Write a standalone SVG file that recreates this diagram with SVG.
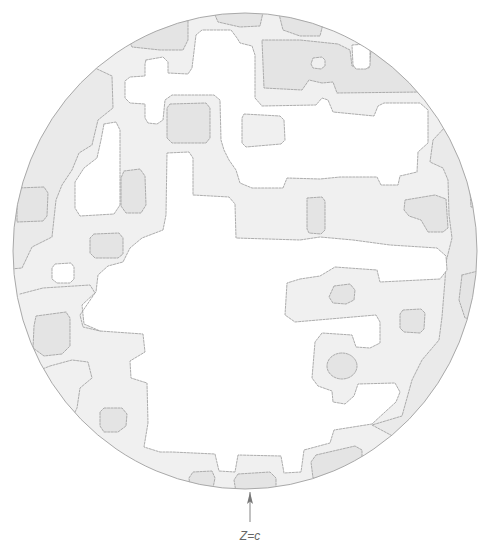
<svg xmlns="http://www.w3.org/2000/svg" width="484" height="542" viewBox="0 0 484 542">
<style>
.k{stroke:#a4a4a4;stroke-width:0.9;stroke-dasharray:2.2 1.3;stroke-linejoin:round;stroke-linecap:round}
.w{fill:#ffffff}
.l{fill:#f0f0f0}
.d{fill:#e4e4e4}
.b{fill:#eaeaea}
.n{fill:none}
</style>
<defs>
<clipPath id="disk"><ellipse cx="245" cy="251" rx="232" ry="238"/></clipPath>
<marker id="ah" viewBox="0 0 12 6" refX="12" refY="3" markerWidth="12" markerHeight="6" orient="auto" markerUnits="userSpaceOnUse">
<path d="M0,0 L12,3 L0,6 L2.5,3 Z" fill="#777"/>
</marker>
</defs>
<rect width="484" height="542" fill="#ffffff"/>
<g id="map" clip-path="url(#disk)">
<ellipse cx="245" cy="251" rx="232" ry="238" class="l"/>
<!-- darker bands along the rim -->
<polygon class="b k" points="0,40 95,68 112,76 113,108 98,120 92,145 79,153 72,170 62,185 56,200 52,237 32,247 22,268 0,270"/>
<polygon class="b k" points="484,110 447,125 433,140 430,162 443,168 448,180 449,215 452,238 446,262 445,280 442,317 439,340 422,360 412,380 402,416 372,425 400,440 484,440"/>
<!-- top dark region -->
<polygon class="d k" points="262,40 300,40 338,44 350,50 352,66 369,68 371,50 390,60 412,80 422,92 337,93 333,82 322,83 309,80 302,90 264,88"/>
<polygon class="l k" points="313,58 322,57 325,60 325,66 321,69 313,68 311,64"/>
<polygon class="d k" points="120,20 132,47 160,50 183,50 188,40 188,20"/>
<polygon class="d k" points="212,8 218,22 240,27 260,26 264,8"/>
<polygon class="d k" points="278,10 283,30 300,36 320,36 324,20 316,8"/>
<!-- white notch top right -->
<polygon class="w k" points="352,45 367,44 370,50 370,66 366,69 356,69 353,65"/>
<!-- upper white region (cross + top centre + right arm) -->
<polygon class="w k" points="146,60 163,57 168,62 168,73 188,74 192,68 196,35 202,30 231,30 237,38 240,43 252,46 255,55 255,98 262,106 316,105 322,98 328,100 333,112 374,116 378,106 384,103 420,103 428,110 428,143 418,152 417,172 400,176 398,185 381,185 377,177 340,177 320,179 287,178 283,188 252,188 240,183 236,170 229,160 224,150 221,140 220,100 214,95 172,95 165,100 163,120 157,124 148,123 145,118 145,104 130,103 125,98 125,81 130,77 145,76 145,64"/>
<polygon class="l k" points="244,114 280,116 284,120 285,140 281,144 246,147 242,143 242,118"/>
<!-- gray square with dark core below cross -->
<polygon class="d k" points="170,104 206,103 210,108 210,138 206,143 172,143 167,138 167,108"/>
<!-- white slanted region left -->
<polygon class="w k" points="104,124 116,122 120,130 120,205 114,214 80,216 75,208 75,182 84,168 97,158 101,140"/>
<polygon class="d k" points="124,171 140,169 145,176 146,205 141,213 126,213 121,206 121,178"/>
<polygon class="d k" points="17,188 44,187 48,193 47,216 43,221 17,222"/>
<polygon class="d k" points="94,234 119,233 123,238 123,254 118,258 95,258 90,253 90,238"/>
<polygon class="w k" points="55,264 71,263 74,267 74,279 70,283 57,283 52,279 52,268"/>
<!-- big central white -->
<polygon class="w k" points="167,153 189,152 193,158 193,195 229,197 235,204 236,238 300,240 320,237 353,240 390,245 437,248 446,256 447,270 440,279 380,282 377,270 335,267 320,276 300,279 287,283 285,315 295,322 376,315 380,322 380,343 370,348 356,347 352,335 322,333 315,342 312,378 318,386 332,391 333,402 345,404 354,396 358,384 395,383 400,392 396,402 385,412 372,424 334,430 330,443 304,450 301,472 284,473 281,456 238,455 235,472 219,471 215,454 172,452 160,452 144,447 148,423 147,383 131,378 130,361 145,352 143,334 100,331 84,324 82,305 96,292 98,275 108,266 123,262 130,248 142,238 163,230 166,215"/>
<!-- dark spots -->
<polygon class="d k" points="307,198 322,197 325,201 325,230 321,234 309,233 307,229"/>
<polygon class="d k" points="405,200 435,195 446,199 448,228 443,232 428,232 421,220 409,216 404,210"/>
<polygon class="d k" points="470,190 482,188 482,208 471,207"/>
<polygon class="d k" points="462,275 482,270 482,320 465,318 459,300"/>
<polygon class="d k" points="334,286 350,284 355,290 354,300 346,304 333,303 329,297"/>
<polygon class="d k" points="403,310 421,309 425,313 424,329 420,333 404,332 400,328 400,314"/>
<ellipse class="d k" cx="342" cy="366" rx="15" ry="13"/>
<polygon class="d k" points="36,316 66,312 70,318 70,346 62,354 44,356 33,348 34,326"/>
<polygon class="d k" points="104,408 122,408 127,414 126,426 118,432 104,432 100,426 100,412"/>
<polygon class="d k" points="193,472 212,471 215,478 213,488 190,488 189,478"/>
<polygon class="d k" points="238,474 270,472 276,478 276,492 236,492 234,480"/>
<polygon class="d k" points="316,455 355,446 362,450 362,462 330,478 313,478 311,462"/>
<!-- extra contour lines in the rim -->
<polyline class="n k" points="20,294 43,288 90,285 95,293 80,315 83,327 100,331"/>
<polyline class="n k" points="30,374 50,366 72,360 88,362 92,378 80,388 77,408 72,418"/>
</g>
<ellipse cx="245" cy="251" rx="232" ry="238" fill="none" stroke="#a9a9a9" stroke-width="1"/>
<g id="connectors">
<line x1="250" y1="522" x2="250" y2="492" stroke="#777" stroke-width="0.9" marker-end="url(#ah)"/>
</g>
<text x="250" y="540" font-family="Liberation Sans, Arial, sans-serif" font-size="12" font-style="italic" fill="#666" text-anchor="middle">Z=c</text>
</svg>
